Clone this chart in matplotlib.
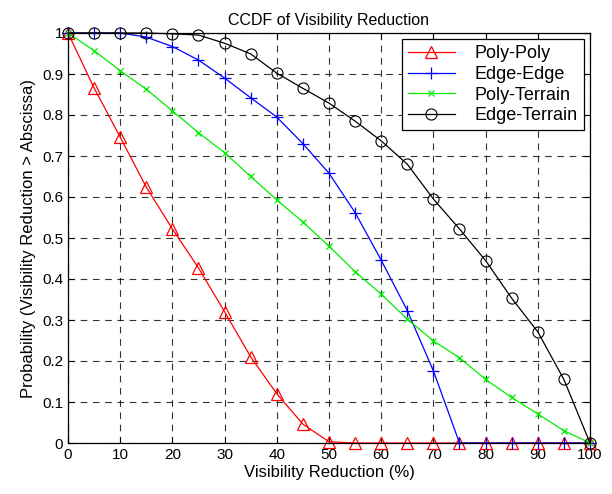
import matplotlib
matplotlib.use("Agg")
import matplotlib.pyplot as plt
from matplotlib.ticker import FuncFormatter

plt.rcParams['font.family'] = ['Liberation Sans', 'DejaVu Sans']

# visibility reduction (%)
x_vals = [0, 5, 10, 15, 20, 25, 30, 35, 40, 45, 50,
          55, 60, 65, 70, 75, 80, 85, 90, 95, 100]

poly_poly = [1.0, 0.866, 0.746, 0.624, 0.522, 0.427, 0.32, 0.21, 0.12, 0.046, 0.003,
             0, 0, 0, 0, 0, 0, 0, 0, 0, 0]
edge_edge = [1.0, 1.0, 1.0, 0.99, 0.967, 0.934, 0.89, 0.842, 0.795, 0.73, 0.658,
             0.562, 0.446, 0.323, 0.176, 0, 0, 0, 0, 0, 0]
poly_terrain = [1.0, 0.957, 0.908, 0.863, 0.81, 0.757, 0.708, 0.65, 0.593, 0.539, 0.48,
                0.418, 0.363, 0.302, 0.249, 0.208, 0.155, 0.111, 0.071, 0.03, 0]
edge_terrain = [1.0, 1.0, 1.0, 1.0, 0.998, 0.995, 0.975, 0.949, 0.902, 0.865, 0.829,
                0.785, 0.737, 0.68, 0.595, 0.522, 0.445, 0.353, 0.271, 0.155, 0]

fig = plt.figure(figsize=(6.12, 4.94), dpi=100)
ax = fig.add_axes([68/612, 51/494, 522/612, 410/494])

ax.plot(x_vals, poly_poly, color="red", lw=0.9, marker="^", ms=8,
        mfc="none", mec="red", mew=0.9, label="Poly-Poly", clip_on=False)
ax.plot(x_vals, edge_edge, color="blue", lw=0.9, marker="+", ms=9,
        mew=0.9, label="Edge-Edge", clip_on=False)
ax.plot(x_vals, poly_terrain, color="#00ee00", lw=0.9, marker="x", ms=4,
        mew=0.9, label="Poly-Terrain", clip_on=False)
ax.plot(x_vals, edge_terrain, color="black", lw=0.9, marker="o", ms=8,
        mfc="none", mec="black", mew=0.8, label="Edge-Terrain", clip_on=False)

ax.set_xlim(0, 100)
ax.set_ylim(0, 1)
ax.set_xticks(range(0, 101, 10))
ax.set_yticks([i / 10 for i in range(11)])
ax.yaxis.set_major_formatter(FuncFormatter(lambda v, p: "%g" % round(v, 1)))
ax.tick_params(direction="in", top=True, right=True, labelsize=11, length=4)
ax.grid(True, color="black", linestyle=(0, (6, 5)), linewidth=0.8, alpha=0.8)
for s in ax.spines.values():
    s.set_linewidth(0.9)

ax.set_title("CCDF of Visibility Reduction", fontsize=11.5, pad=6)
ax.set_xlabel("Visibility Reduction (%)", fontsize=12, labelpad=2)
ax.set_ylabel("Probability (Visibility Reduction > Abscissa)", fontsize=12, labelpad=4)

leg = ax.legend(loc="upper right", fontsize=13, fancybox=False, framealpha=1,
                edgecolor="black", borderpad=0.33, handlelength=2.6,
                labelspacing=0.2, handletextpad=1.1, borderaxespad=0.35)
leg.get_frame().set_linewidth(0.9)

plt.savefig("out.png", dpi=100)
